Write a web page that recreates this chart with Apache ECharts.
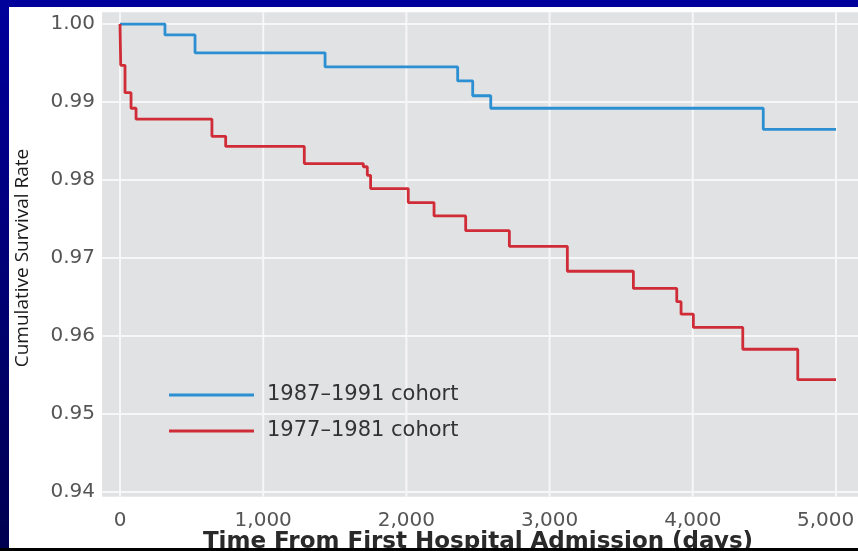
<!DOCTYPE html>
<html>
<head>
<meta charset="utf-8">
<script src="https://cdn.jsdelivr.net/npm/echarts@6/dist/echarts.min.js"></script>
<style>
  html, body { margin: 0; padding: 0; }
  body {
    width: 858px; height: 551px; overflow: hidden; position: relative;
    background: linear-gradient(#00009c, #000050);
  }
  #chart { position: absolute; left: 9px; top: 7px; width: 849px; height: 541px; background: #fff; }
  #foot { position: absolute; left: 0; top: 548px; width: 858px; height: 3px; background: #000; }
</style>
</head>
<body>
<div id="chart"></div>
<div id="foot"></div>
<script>
// 1987-1991 cohort (days, survival after event)
var newDays = [0, 314, 524, 1432, 2358, 2463, 2589, 4492, 5000]
var newRate = [1.0, 0.9986, 0.9963, 0.9945, 0.9927, 0.9908, 0.9892, 0.9865, 0.9865]
// 1977-1981 cohort
var oldDays = [0, 5, 35, 77, 112, 642, 738, 1287, 1699, 1727, 1750, 2013, 2193, 2414, 2719, 3124, 3585, 3888, 3918, 4004, 4349, 4733, 5000]
var oldRate = [1.0, 0.9947, 0.9912, 0.9892, 0.9878, 0.9856, 0.9843, 0.9821, 0.9817, 0.9806, 0.9789, 0.9771, 0.9754, 0.9735, 0.9715, 0.9683, 0.9661, 0.9644, 0.9628, 0.9611, 0.9583, 0.9544, 0.9544]
var xTicks = [0, 1000, 2000, 3000, 4000, 5000]
var yTicks = [0.94, 0.95, 0.96, 0.97, 0.98, 0.99, 1.00]
var seriesNames = ['1987\u20131991 cohort', '1977\u20131981 cohort']
var colors = ['#2b8fd2', '#cf2c37']

function pairs(xs, ys) {
  return xs.map(function (x, i) { return [x, ys[i]] })
}

var chart = echarts.init(document.getElementById('chart'))
var tickFont = { fontFamily: 'DejaVu Sans', fontSize: 20, color: '#555' }

chart.setOption({
  animation: false,
  grid: { left: 111, right: 22, top: 17, bottom: 56, outerBoundsMode: 'none', containLabel: false },
  legend: {
    orient: 'vertical',
    left: 155, top: 372,
    icon: 'rect', itemWidth: 85, itemHeight: 3, itemGap: 14,
    data: seriesNames,
    textStyle: { fontFamily: 'DejaVu Sans', fontSize: 21, color: '#333', padding: [0, 0, 0, 8], lineHeight: 22 }
  },
  xAxis: {
    type: 'value', min: 0, max: 5000, interval: 1000,
    name: 'Time From First Hospital Admission (days)',
    nameLocation: 'middle', nameGap: 39, nameMoveOverlap: false,
    nameTextStyle: { fontFamily: 'DejaVu Sans', fontSize: 23, color: '#2a2a2a', fontWeight: 'bold' },
    axisLine: { show: false }, axisTick: { show: false }, splitLine: { show: false },
    axisLabel: Object.assign({
      margin: 19,
      formatter: function (v) {
        var s = v.toLocaleString('en-US')
        // last label sits inside the right edge, as in the original
        return v === xTicks[xTicks.length - 1] ? '{last|' + s + '}' : s
      },
      rich: { last: { width: 78, align: 'left', fontFamily: 'DejaVu Sans', fontSize: 20, color: '#555' } }
    }, tickFont)
  },
  yAxis: {
    type: 'value', min: 0.94, max: 1.0, interval: 0.01,
    name: 'Cumulative Survival Rate',
    nameLocation: 'middle', nameGap: 88, nameMoveOverlap: false,
    nameTextStyle: { fontFamily: 'Open Sans', fontSize: 19, color: '#1a1a1a' },
    axisLine: { show: false }, axisTick: { show: false }, splitLine: { show: false },
    axisLabel: Object.assign({ margin: 25, formatter: function (v) { return v.toFixed(2) } }, tickFont)
  },
  series: [
    { name: seriesNames[0], type: 'line', step: 'end', symbol: 'none', z: 5,
      lineStyle: { color: colors[0], width: 2.8 }, itemStyle: { color: colors[0] },
      data: pairs(newDays, newRate) },
    { name: seriesNames[1], type: 'line', step: 'end', symbol: 'none', z: 5,
      lineStyle: { color: colors[1], width: 2.8 }, itemStyle: { color: colors[1] },
      data: pairs(oldDays, oldRate) }
  ]
})

// gray panel and white grid lines, spanning a bit past the axis range
var tl = chart.convertToPixel({ gridIndex: 0 }, [-125, 1.0015])
var br = chart.convertToPixel({ gridIndex: 0 }, [5200, 0.9394])
var shapes = [{
  type: 'rect', z: -10, silent: true,
  shape: { x: tl[0], y: tl[1], width: br[0] - tl[0], height: br[1] - tl[1] },
  style: { fill: '#e1e2e4' }
}]
yTicks.forEach(function (v) {
  var y = chart.convertToPixel({ gridIndex: 0 }, [0, v])[1]
  shapes.push({ type: 'line', z: -9, silent: true,
    shape: { x1: tl[0], y1: y, x2: br[0], y2: y },
    style: { stroke: '#f7f7f8', lineWidth: 2 } })
})
xTicks.forEach(function (v) {
  var x = chart.convertToPixel({ gridIndex: 0 }, [v, 1])[0]
  shapes.push({ type: 'line', z: -9, silent: true,
    shape: { x1: x, y1: tl[1], x2: x, y2: br[1] },
    style: { stroke: '#f7f7f8', lineWidth: 2 } })
})
chart.setOption({ graphic: shapes })
</script>
</body>
</html>
